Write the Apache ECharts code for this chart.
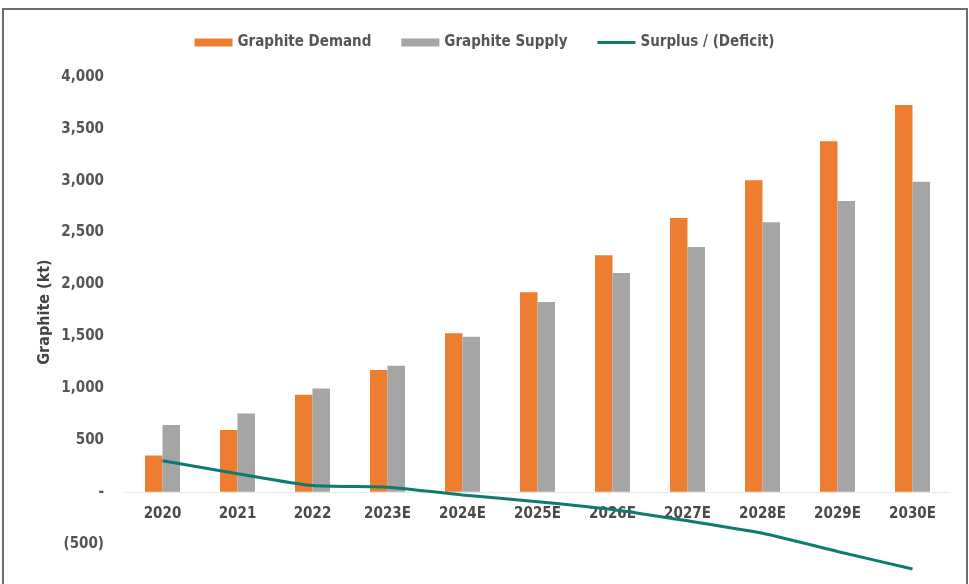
<!DOCTYPE html>
<html>
<head>
<meta charset="utf-8">
<script src="https://cdn.jsdelivr.net/npm/echarts@6/dist/echarts.min.js"></script>
<style>
html,body{margin:0;padding:0;background:#fff;overflow:hidden;}
#frame{position:absolute;left:2px;top:8px;width:962px;height:600px;border:2px solid #6e6e6e;border-bottom:none;}
#main{position:absolute;left:0;top:0;width:969px;height:584px;}
</style>
</head>
<body>
<div id="frame"></div>
<div id="main"></div>
<script>
const categories = ['2020','2021','2022','2023E','2024E','2025E','2026E','2027E','2028E','2029E','2030E'];
const demand = [350, 595, 935, 1175, 1530, 1925, 2280, 2640, 3005, 3380, 3730];
const supply = [645, 755, 995, 1215, 1495, 1830, 2110, 2360, 2600, 2805, 2990];
const surplus = [300, 175, 60, 45, -30, -95, -170, -280, -400, -575, -745];
const yTicks = {min: -1000, max: 4000, interval: 500};

const chart = echarts.init(document.getElementById('main'));
const font = '"DejaVu Sans Condensed", "DejaVu Sans", sans-serif';
function fmt(v){
  if (v === 0) return '-';
  const s = Math.abs(v).toLocaleString('en-US');
  return v < 0 ? '(' + s + ')' : s;
}
const gridTop = 77, gridHeight = 518.5;
const zeroOffset = gridHeight * (0 - yTicks.min) / (yTicks.max - yTicks.min);
chart.setOption({
  animation: false,
  backgroundColor: 'transparent',
  legend: {
    top: 30,
    left: 'center',
    itemWidth: 38,
    itemHeight: 8,
    itemGap: 30,
    textStyle: {fontFamily: font, fontWeight: 'bold', fontSize: 15, color: '#555'},
    data: [
      {name: 'Graphite Demand', icon: 'rect'},
      {name: 'Graphite Supply', icon: 'rect'},
      {name: 'Surplus / (Deficit)', icon: 'path://M0,0 H40 V3 H0 Z'}
    ]
  },
  grid: {left: 125, right: 19, top: gridTop, height: gridHeight, containLabel: false, outerBoundsMode: 'none'},
  xAxis: {
    type: 'category',
    data: categories,
    offset: -zeroOffset,
    axisLine: {onZero: false, lineStyle: {color: '#e8e8e8', width: 1}},
    axisTick: {show: false},
    axisLabel: {fontFamily: font, fontWeight: 'bold', fontSize: 15, color: '#4a4a4a', margin: 15}
  },
  yAxis: {
    type: 'value',
    min: yTicks.min, max: yTicks.max, interval: yTicks.interval,
    splitLine: {show: false},
    axisLine: {show: false},
    axisTick: {show: false},
    axisLabel: {formatter: fmt, fontFamily: font, fontWeight: 'bold', fontSize: 15, color: '#555', margin: 21}
  },
  graphic: [{
    type: 'text',
    x: 45, y: 312,
    rotation: Math.PI / 2,
    style: {text: 'Graphite (kt)', fontFamily: font, fontWeight: 'bold', fontSize: 16, fill: '#444', align: 'center', verticalAlign: 'middle'}
  }],
  series: [
    {name: 'Graphite Demand', type: 'bar', data: demand, barWidth: 17.5, barGap: '0%', itemStyle: {color: '#ED7D31'}},
    {name: 'Graphite Supply', type: 'bar', data: supply, barWidth: 17.5, barGap: '0%', itemStyle: {color: '#A5A5A5'}},
    {name: 'Surplus / (Deficit)', type: 'line', data: surplus, symbol: 'none', smooth: 0.2,
     lineStyle: {color: '#117A6E', width: 3}, itemStyle: {color: '#117A6E'}}
  ]
});
</script>
</body>
</html>
